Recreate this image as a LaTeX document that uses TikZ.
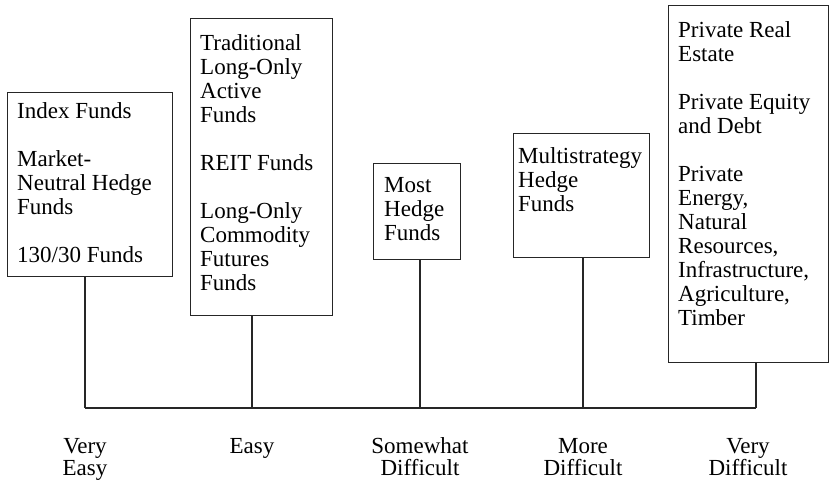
\documentclass[tikz,border=0pt]{standalone}
\usepackage{fontspec}
\setmainfont{Liberation Serif}

\begin{document}
\begin{tikzpicture}[line join=miter,x=1pt,y=-1pt,
  fundbox/.style={draw=black!85,line width=1.1pt,inner sep=0pt,anchor=north west},
  fundtext/.style={anchor=north west,align=left,inner sep=0pt,font=\fontsize{23}{24}\selectfont},
  easelabel/.style={anchor=base,align=center,inner sep=0pt,font=\fontsize{23}{22}\selectfont},
  stemline/.style={draw=black!85,line width=1.1pt}]
\useasboundingbox (0,0) rectangle (830,482);
% boxes
\node[fundbox,minimum width=165pt,minimum height=184pt] (b1) at (7,92) {};
\node[fundbox,minimum width=142pt,minimum height=297pt] (b2) at (190,18) {};
\node[fundbox,minimum width=87pt,minimum height=96pt] (b3) at (373,163) {};
\node[fundbox,minimum width=136pt,minimum height=124pt] (b4) at (513,133) {};
\node[fundbox,minimum width=160pt,minimum height=357pt] (b5) at (668,5) {};
% box texts
\node[fundtext] (t1) at (17,102) {Index Funds\\[24pt]Market-\\Neutral Hedge\\Funds\\[24pt]130/30 Funds};
\node[fundtext] (t2) at (200,34) {Traditional\\Long-Only\\Active\\Funds\\[24pt]REIT Funds\\[24pt]Long-Only\\Commodity\\Futures\\Funds};
\node[fundtext] (t3) at (384,177) {Most\\Hedge\\Funds};
\node[fundtext] (t4) at (518,147) {Multistrategy\\Hedge\\Funds};
\node[fundtext] (t5) at (678,21) {Private Real\\Estate\\[24pt]Private Equity\\and Debt\\[24pt]Private\\Energy,\\Natural\\Resources,\\Infrastructure,\\Agriculture,\\Timber};
% stems and base line
\coordinate (s1) at (85,408);
\coordinate (s2) at (252,408);
\coordinate (s3) at (420,408);
\coordinate (s4) at (583,408);
\coordinate (s5) at (756,408);
\foreach \i in {1,...,5}
  \draw[stemline] (s\i |- b\i.south) -- (s\i);
\draw[stemline] (s1) -- (s5);
% scale labels
\node[easelabel] (l1) at (85,475) {Very\\Easy};
\node[easelabel] (l2) at (252,453) {Easy};
\node[easelabel] (l3) at (420,475) {Somewhat\\Difficult};
\node[easelabel] (l4) at (583,475) {More\\Difficult};
\node[easelabel] (l5) at (748,475) {Very\\Difficult};
\end{tikzpicture}
\end{document}
